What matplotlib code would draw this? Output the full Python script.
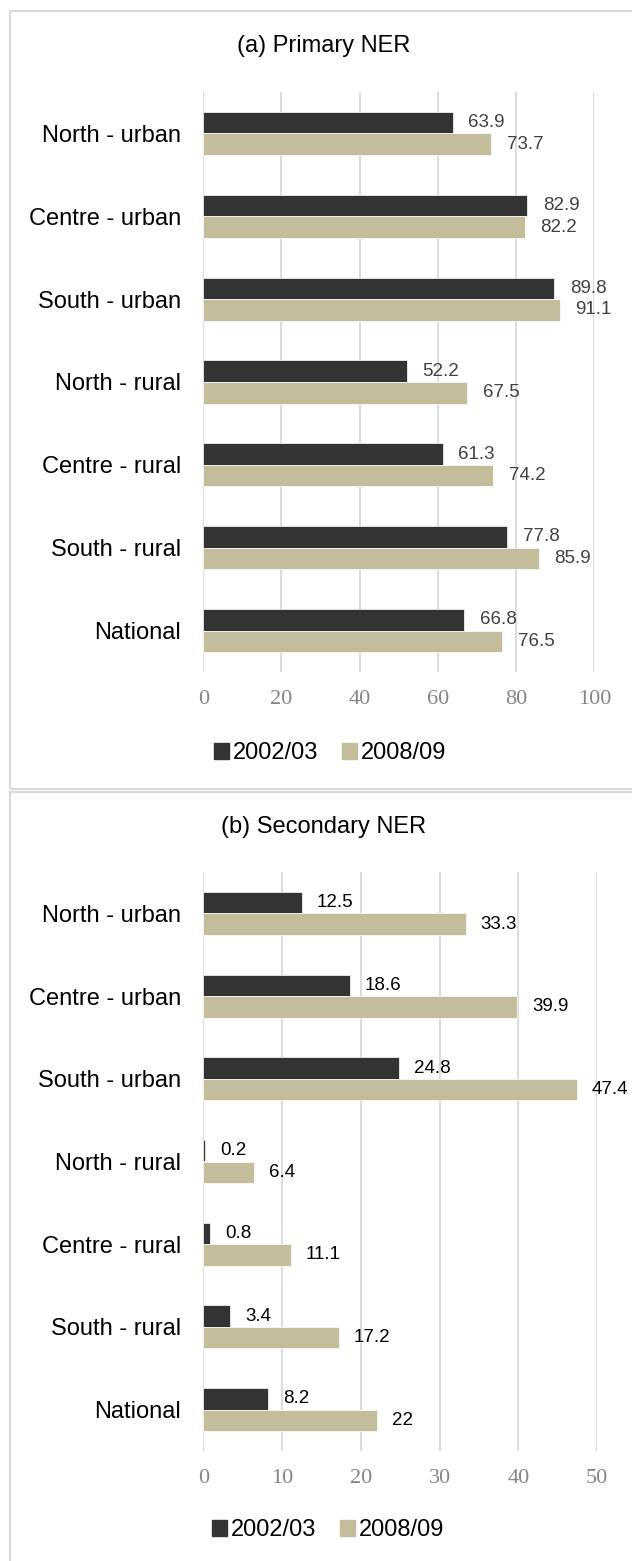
import matplotlib.pyplot as plt
from matplotlib.patches import Patch, Rectangle
import numpy as np

W, H, DPI = 632, 1561, 100

categories = ["North - urban", "Centre - urban", "South - urban",
              "North - rural", "Centre - rural", "South - rural", "National"]
series_names = ["2002/03", "2008/09"]

primary_0203 = [63.9, 82.9, 89.8, 52.2, 61.3, 77.8, 66.8]
primary_0809 = [73.7, 82.2, 91.1, 67.5, 74.2, 85.9, 76.5]
secondary_0203 = [12.5, 18.6, 24.8, 0.2, 0.8, 3.4, 8.2]
secondary_0809 = [33.3, 39.9, 47.4, 6.4, 11.1, 17.2, 22]

DARK = "#333333"
LIGHT = "#c4bd9b"
GRID = "#d9d9d9"


# pixel box -> figure fraction
def fig_rect(x0, y0, x1, y1):
    return [x0 / W, 1 - y1 / H, (x1 - x0) / W, (y1 - y0) / H]


def draw_panel(fig, rect, title, title_xy, legend_xy, v1, v2, xmax, step, label_color):
    ax = fig.add_axes(fig_rect(*rect))
    y = np.arange(len(categories))
    h = 0.26
    b1 = ax.barh(y - h / 2, v1, height=h, color=DARK, edgecolor="white", linewidth=0.5,
                 label=series_names[0], zorder=3)
    b2 = ax.barh(y + h / 2, v2, height=h, color=LIGHT, edgecolor="white", linewidth=0.5,
                 label=series_names[1], zorder=3)
    for c in (b1, b2):
        lbls = ax.bar_label(c, fmt="%g", padding=11, fontsize=13.5, color=label_color,
                            family="Liberation Sans")
        for t in lbls:
            t.set_clip_on(False)

    ax.set_xlim(0, xmax)
    ax.set_ylim(len(categories) - 0.5, -0.5)
    ax.set_xticks(np.arange(0, xmax + 0.1, step))
    ax.set_yticks(y)
    ax.set_yticklabels(categories, fontsize=17, family="Liberation Sans")
    for lab in ax.get_xticklabels():
        lab.set_family("Liberation Serif")
        lab.set_fontsize(16)
        lab.set_color("#858585")
    ax.tick_params(axis="x", length=0, pad=13)
    ax.tick_params(axis="y", length=0, pad=16)
    for s in ax.spines.values():
        s.set_visible(False)
    ax.grid(axis="x", color=GRID, linewidth=1.3, zorder=0)
    ax.set_axisbelow(True)

    fig.text(title_xy[0] / W, 1 - title_xy[1] / H, title, fontsize=17,
             family="Liberation Sans", ha="center", va="center")

    handles = [Patch(color=DARK), Patch(color=LIGHT)]
    fig.legend(handles, series_names, loc="center",
               bbox_to_anchor=(legend_xy[0] / W, 1 - legend_xy[1] / H),
               ncol=2, frameon=False, prop={"family": "Liberation Sans", "size": 17},
               handlelength=0.64, handleheight=0.64, handletextpad=0.15,
               columnspacing=1.0)
    return ax


fig = plt.figure(figsize=(W / DPI, H / DPI), dpi=DPI)

# panel frames
fig.patches.append(Rectangle((10 / W, 1 - 789 / H), 700 / W, 778 / H, transform=fig.transFigure,
                             fill=False, edgecolor=GRID, linewidth=1.5))
fig.patches.append(Rectangle((10 / W, -0.05), 700 / W, 1 - 792 / H + 0.05, transform=fig.transFigure,
                             fill=False, edgecolor=GRID, linewidth=1.5))

draw_panel(fig, (203.3, 92, 594.3, 672), "(a) Primary NER", (324, 46), (330, 753),
           primary_0203, primary_0809, 100, 20, "#404040")
draw_panel(fig, (203.3, 872, 597, 1451), "(b) Secondary NER", (324, 827), (328, 1530),
           secondary_0203, secondary_0809, 50, 10, "black")

fig.savefig("out.png", dpi=DPI)
